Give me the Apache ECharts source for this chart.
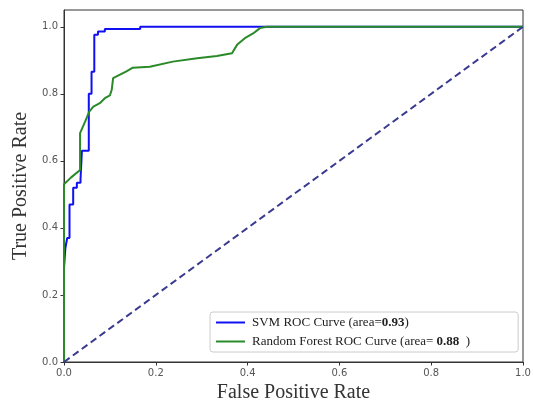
<!DOCTYPE html>
<html>
<head>
<meta charset="utf-8">
<script src="https://cdn.jsdelivr.net/npm/echarts@6/dist/echarts.min.js"></script>
<style>html,body{margin:0;padding:0;background:#fff;}#c{width:534px;height:410px;}</style>
</head>
<body>
<div id="c"></div>
<script>
var xTicks = [0, 0.2, 0.4, 0.6, 0.8, 1.0];
var yTicks = [0, 0.2, 0.4, 0.6, 0.8, 1.0];

var svmFpr = [0, 0, 0.003, 0.003, 0.007, 0.007, 0.012, 0.012, 0.02, 0.02, 0.028, 0.028, 0.036, 0.036, 0.039, 0.039, 0.054, 0.054, 0.060, 0.060, 0.066, 0.066, 0.074, 0.074, 0.089, 0.089, 0.166, 0.166, 1.0];
var svmTpr = [0, 0.28, 0.28, 0.34, 0.34, 0.37, 0.37, 0.47, 0.47, 0.52, 0.52, 0.535, 0.535, 0.545, 0.545, 0.63, 0.63, 0.80, 0.80, 0.866, 0.866, 0.976, 0.976, 0.986, 0.986, 0.993, 0.993, 1.0, 1.0];

var rfFpr = [0, 0, 0.015, 0.035, 0.035, 0.046, 0.055, 0.064, 0.078, 0.089, 0.100, 0.104, 0.107, 0.122, 0.136, 0.150, 0.187, 0.237, 0.290, 0.333, 0.366, 0.377, 0.394, 0.412, 0.427, 0.442, 1.0];
var rfTpr = [0, 0.53, 0.55, 0.573, 0.683, 0.717, 0.747, 0.762, 0.772, 0.787, 0.795, 0.812, 0.847, 0.857, 0.867, 0.878, 0.881, 0.896, 0.906, 0.913, 0.921, 0.946, 0.966, 0.980, 0.996, 1.0, 1.0];

var diagX = [0, 1];
var diagY = [0, 1];

var svmName = 'SVM ROC Curve';
var rfName = 'Random Forest ROC Curve';
var svmArea = '0.93';
var rfArea = '0.88';

function pairs(xs, ys) { return xs.map(function (x, i) { return [x, ys[i]]; }); }

var chart = echarts.init(document.getElementById('c'), null, {renderer: 'canvas'});
var serif = '"Liberation Serif", "DejaVu Serif", serif';
chart.setOption({
  animation: false,
  grid: {left: 64, right: 11, top: 10, bottom: 48, show: true, borderColor: '#333', borderWidth: 1},
  xAxis: {
    type: 'value', min: 0, max: 1, interval: 0.2,
    name: 'False Positive Rate', nameLocation: 'middle', nameGap: 21,
    nameTextStyle: {fontFamily: serif, fontSize: 20, color: '#333'},
    axisLine: {show: true, lineStyle: {color: '#333', width: 1}},
    axisTick: {show: true, length: 3.5, lineStyle: {color: '#333'}},
    splitLine: {show: false},
    axisLabel: {color: '#555', fontSize: 10, fontFamily: 'DejaVu Sans', margin: 6,
      formatter: function (v) { return v.toFixed(1); }}
  },
  yAxis: {
    type: 'value', min: 0, max: 1.05, interval: 0.2,
    name: 'True Positive Rate', nameLocation: 'middle', nameGap: 32,
    nameTextStyle: {fontFamily: serif, fontSize: 20, color: '#333'},
    axisLine: {show: true, lineStyle: {color: '#333', width: 1}},
    axisTick: {show: true, length: 3.5, lineStyle: {color: '#333'}},
    splitLine: {show: false},
    axisLabel: {color: '#555', fontSize: 10, fontFamily: 'DejaVu Sans', margin: 6, showMaxLabel: false,
      formatter: function (v) { return v > 1.001 ? '' : v.toFixed(1); }}
  },
  legend: {
    data: [svmName, rfName],
    orient: 'vertical', left: 210, top: 312,
    icon: 'rect', itemWidth: 29, itemHeight: 2, itemGap: 6,
    backgroundColor: '#fff', borderColor: '#ccc', borderWidth: 1, borderRadius: 3,
    padding: [4, 48, 4, 6],
    textStyle: {fontFamily: serif, fontSize: 13, color: '#222', padding: [0, 0, 0, 2],
      rich: {b: {fontFamily: serif, fontSize: 13, fontWeight: 'bold', color: '#222'}}},
    formatter: function (name) {
      if (name === svmName) return name + ' (area={b|' + svmArea + '})';
      return name + ' (area= {b|' + rfArea + '}  )';
    }
  },
  series: [
    {name: svmName, type: 'line', data: pairs(svmFpr, svmTpr), showSymbol: false,
      lineStyle: {color: '#1010f0', width: 2}, itemStyle: {color: '#1010f0'}},
    {name: rfName, type: 'line', data: pairs(rfFpr, rfTpr), showSymbol: false,
      lineStyle: {color: '#2a8a2a', width: 2}, itemStyle: {color: '#2a8a2a'}},
    {name: 'diag', type: 'line', data: pairs(diagX, diagY), showSymbol: false,
      lineStyle: {color: '#3a3a90', width: 2, type: [7, 4]}, itemStyle: {color: '#3a3a90'}}
  ]
});
</script>
</body>
</html>
